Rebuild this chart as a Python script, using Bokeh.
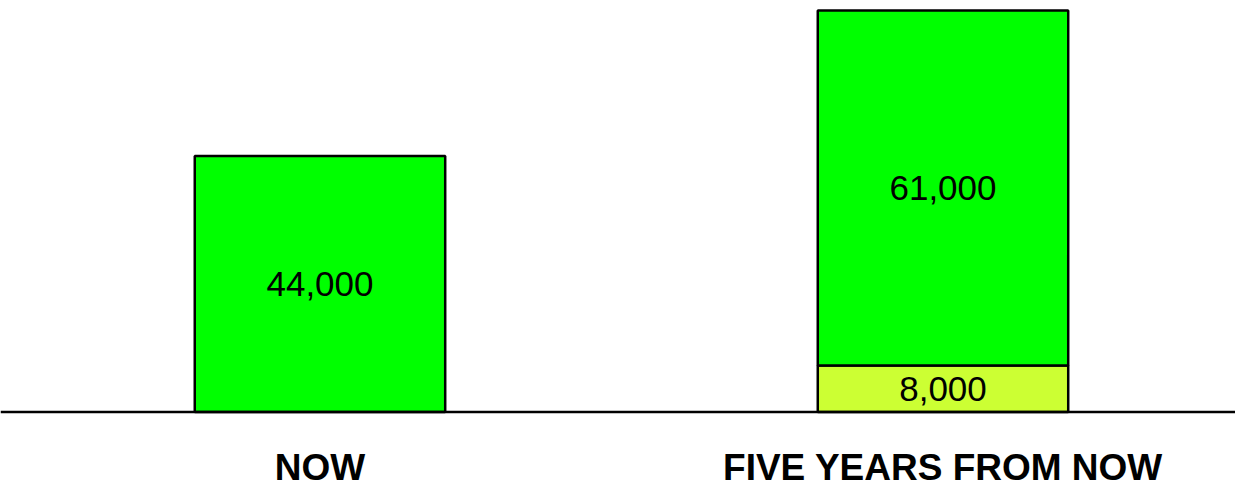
from bokeh.plotting import figure
from bokeh.models import ColumnDataSource, Range1d, Span
from bokeh.core.properties import value
from bokeh.embed import file_html
from bokeh.resources import INLINE

# ---- data ----
categories = ["NOW", "FIVE YEARS FROM NOW"]
base_values = [0, 8000]        # lower (yellow-green) segment
main_values = [44000, 61000]   # upper (green) segment

# ---- derived sources ----
xs = [i + 0.5 for i in range(len(categories))]

seg_x, seg_bottom, seg_top, seg_color, seg_label, seg_mid = [], [], [], [], [], []
for x, b, m in zip(xs, base_values, main_values):
    if b > 0:
        seg_x.append(x); seg_bottom.append(0); seg_top.append(b)
        seg_color.append("#CCFF33"); seg_label.append(f"{b:,}"); seg_mid.append(b / 2)
    seg_x.append(x); seg_bottom.append(b); seg_top.append(b + m)
    seg_color.append("#00FF00"); seg_label.append(f"{m:,}"); seg_mid.append(b + m / 2)

bars = ColumnDataSource(dict(x=seg_x, bottom=seg_bottom, top=seg_top,
                             color=seg_color, label=seg_label, mid=seg_mid))
cats = ColumnDataSource(dict(x=xs, y=[-9580] * len(xs), label=categories))

p = figure(width=1235, height=482, output_backend="svg", toolbar_location=None,
           x_range=Range1d(-0.0128, 1.9695), y_range=Range1d(-12116, 70719),
           x_axis_location=None, y_axis_location=None,
           min_border=0, min_border_left=0, min_border_right=0,
           min_border_top=0, min_border_bottom=0)
p.outline_line_color = None
p.grid.visible = False
p.background_fill_color = "white"

p.vbar(x="x", bottom="bottom", top="top", width=0.402, source=bars,
       fill_color="color", line_color="black", line_width=2.5)

p.add_layout(Span(location=0, dimension="width", line_color="black", line_width=2.5))

p.text(x="x", y="mid", text="label", source=bars,
       text_font=value("Liberation Sans"), text_font_size="35px",
       text_align="center", text_baseline="middle", text_color="black")

p.text(x="x", y="y", text="label", source=cats,
       text_font=value("Liberation Sans"), text_font_style="bold", text_font_size="37px",
       text_align="center", text_baseline="alphabetic", text_color="black")

open("out.html", "w").write(file_html(p, INLINE))
